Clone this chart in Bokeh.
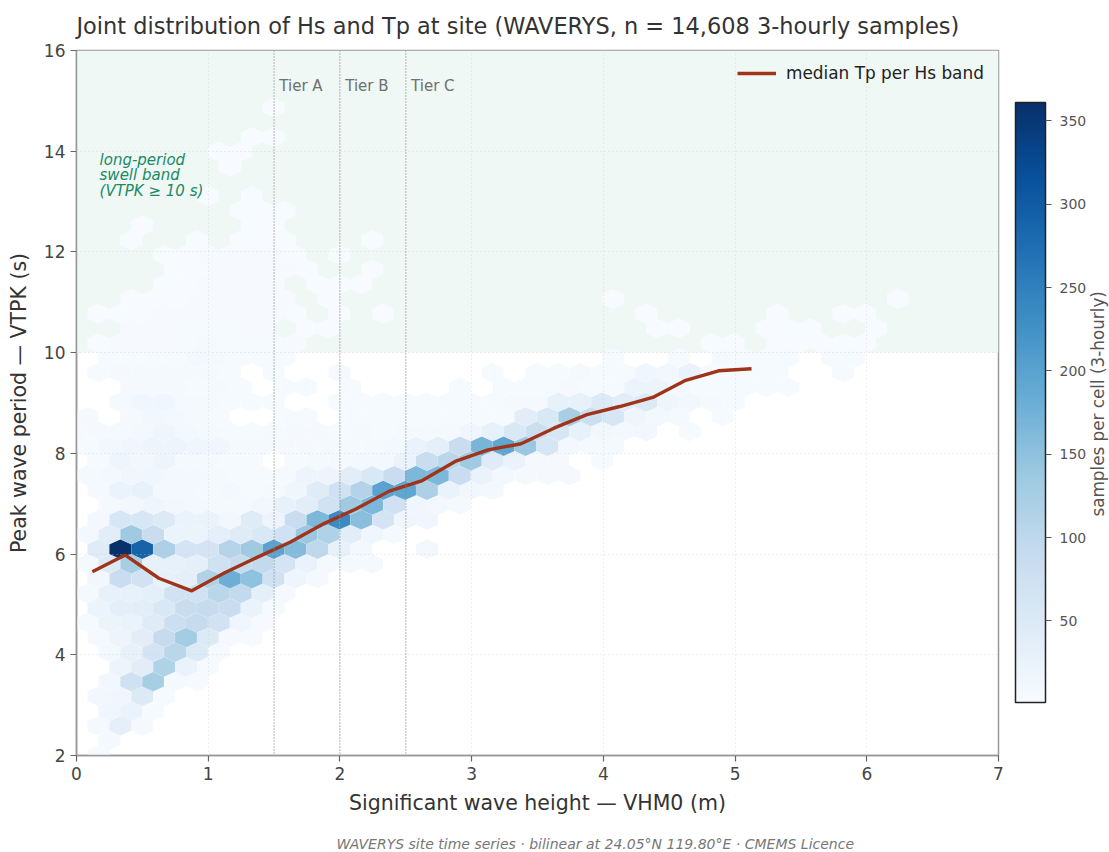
from bokeh.plotting import figure
from bokeh.models import (Range1d, FixedTicker, LinearColorMapper, ColorBar, Span, BoxAnnotation,
                          Title, LinearAxis, Legend, LegendItem, ColumnDataSource)
from bokeh.palettes import Blues256
from bokeh.embed import file_html
from bokeh.resources import INLINE
import math

TITLE = "Joint distribution of Hs and Tp at site (WAVERYS, n = 14,608 3-hourly samples)"
XLABEL = "Significant wave height — VHM0 (m)"
YLABEL = "Peak wave period — VTPK (s)"
CBLABEL = "samples per cell (3-hourly)"
FOOTER = "WAVERYS site time series · bilinear at 24.05°N 119.80°E · CMEMS Licence"
SWELL_LINES = ["long-period", "swell band", "(VTPK ≥ 10 s)"]
SWELL_Y = [13.83, 13.53, 13.21]
TIER_NAMES = ["Tier A", "Tier B", "Tier C"]
TIER_HS = [1.5, 2.0, 2.5]
XTICKS = [0, 1, 2, 3, 4, 5, 6, 7]
YTICKS = [2, 4, 6, 8, 10, 12, 14, 16]
CBTICKS = [50, 100, 150, 200, 250, 300, 350]

median_hs = [0.12, 0.37, 0.625, 0.875, 1.125, 1.375, 1.625, 1.875, 2.125, 2.375, 2.625, 2.875, 3.125,
             3.375, 3.625, 3.875, 4.125, 4.375, 4.625, 4.875, 5.125]
median_tp = [5.65, 5.98, 5.52, 5.27, 5.63, 5.94, 6.24, 6.60, 6.90, 7.25, 7.46, 7.84, 8.07,
             8.19, 8.50, 8.77, 8.93, 9.11, 9.45, 9.64, 9.68]

# hexagon lattice of the 2-D histogram, and the counts read per lattice row
HEX_DX = 0.1663
HEX_DY = 0.2923
HEX_Y0 = 2.005
row00 = [0, 3]
row01 = [0, 8]
row02 = [0, 8, 35, 6]
row03 = [0, 15, 25, 5]
row04 = [0, 12, 15, 50, 4]
row05 = [0, 12, 75, 125, 8, 3]
row06 = [0, 0, 20, 40, 115, 25, 4]
row07 = [0, 10, 30, 65, 105, 50, 4]
row08 = [0, 6, 20, 40, 90, 130, 50, 6, 3]
row09 = [5, 22, 25, 45, 80, 90, 70, 15, 3]
row10 = [0, 22, 35, 40, 55, 85, 90, 85, 25, 4]
row11 = [8, 30, 30, 35, 70, 75, 105, 95, 35, 6]
row12 = [0, 12, 85, 70, 30, 35, 115, 180, 150, 75, 18, 6]
row13 = [8, 50, 125, 30, 30, 35, 75, 90, 95, 65, 25, 8, 8, 8]
row14 = [0, 45, 361, 290, 120, 65, 65, 110, 135, 200, 160, 100, 30, 10, 0, 0, 10]
row15 = [10, 40, 135, 85, 22, 22, 35, 45, 55, 75, 140, 115, 40, 15, 8]
row16 = [0, 10, 60, 60, 50, 25, 25, 12, 45, 20, 85, 165, 235, 155, 65, 18, 15]
row17 = [0, 8, 12, 18, 12, 10, 8, 8, 12, 30, 40, 70, 135, 165, 75, 15, 10, 8]
row18 = [0, 6, 25, 30, 10, 10, 8, 10, 5, 8, 15, 45, 75, 112, 200, 195, 120, 25, 12, 10]
row19 = [8, 10, 15, 15, 10, 10, 6, 5, 5, 8, 20, 20, 40, 55, 85, 165, 165, 85, 25, 10, 6, 6, 6]
row20 = [0, 5, 18, 12, 20, 8, 8, 5, 5, 0, 5, 8, 8, 10, 10, 25, 85, 105, 135, 45, 25, 6, 6, 0, 5]
row21 = [5, 12, 15, 20, 20, 15, 15, 8, 6, 6, 6, 6, 6, 6, 10, 25, 35, 85, 170, 195, 140, 60, 10, 8, 8]
row22 = [6, 6, 8, 10, 18, 10, 6, 5, 5, 8, 6, 6, 5, 8, 5, 6, 6, 8, 15, 30, 55, 80, 60, 30, 12, 10, 12, 0, 5]
row23 = [6, 0, 8, 12, 10, 6, 5, 0, 0, 5, 5, 0, 4, 4, 4, 4, 4, 4, 5, 5, 40, 55, 125, 80, 60, 18, 10, 8, 0, 5]
row24 = [0, 0, 8, 14, 14, 8, 8, 5, 4, 3, 0, 0, 4, 4, 5, 4, 4, 4, 5, 5, 6, 6, 30, 30, 50, 40, 50, 18, 12, 6, 4]
row25 = [0, 0, 6, 8, 6, 5, 8, 4, 0, 4, 4, 0, 4, 0, 0, 0, 0, 4, 0, 4, 4, 5, 6, 5, 5, 22, 22, 10, 5, 5, 4, 5, 5]
row26 = [0, 5, 6, 8, 8, 8, 6, 5, 0, 4, 0, 0, 6, 0, 0, 0, 0, 0, 0, 5, 0, 5, 5, 8, 5, 5, 15, 12, 25, 5, 5, 5, 5, 0, 0, 4]
row27 = [0, 4, 3, 3, 4, 10, 8, 5, 4, 5, 0, 0, 0, 0, 0, 0, 0, 0, 0, 0, 0, 0, 0, 0, 4, 0, 0, 5, 0, 8, 5, 4, 4, 0, 4, 4]
row28 = [0, 2, 3, 3, 3, 4, 6, 5, 4, 3, 3, 0, 0, 0, 0, 0, 0, 0, 0, 0, 0, 0, 0, 0, 0, 0, 0, 0, 0, 2, 2, 0, 2, 2, 2, 2, 2]
row29 = [0, 0, 3, 3, 3, 5, 5, 3, 3, 0, 2, 2, 0, 0, 0, 0, 0, 0, 0, 0, 0, 0, 0, 0, 0, 0, 2, 2, 0, 0, 0, 2, 2, 2, 0, 0, 2]
row30 = [0, 2, 2, 2, 3, 3, 3, 3, 3, 3, 2, 0, 2, 0, 2, 0, 0, 0, 0, 0, 0, 0, 0, 0, 0, 0, 2, 0, 0, 0, 0, 0, 2, 0, 0, 2, 2]
row31 = [0, 0, 2, 2, 2, 3, 3, 3, 3, 3, 0, 2, 0, 0, 0, 0, 0, 0, 0, 0, 0, 0, 0, 0, 2, 0, 0, 0, 0, 0, 0, 0, 0, 0, 0, 0, 0, 2]
row32 = [0, 0, 0, 0, 2, 2, 3, 3, 3, 3, 0, 2, 2, 2]
row33 = [0, 0, 0, 0, 2, 2, 3, 3, 3, 3, 2, 0, 0, 2]
row34 = [0, 0, 0, 0, 2, 2, 3, 3, 3, 3, 2, 0, 2]
row35 = [0, 0, 2, 0, 0, 2, 0, 2, 2, 2, 0, 0, 0, 2]
row36 = [0, 0, 0, 2, 0, 0, 0, 0, 2, 2]
row37 = [0, 0, 0, 0, 0, 0, 0, 2, 2, 2]
row38 = [0, 0, 0, 0, 0, 0, 2, 0, 2]
row39 = []
row40 = [0, 0, 0, 0, 0, 0, 0, 2]
row41 = [0, 0, 0, 0, 0, 0, 2, 2]
row42 = [0, 0, 0, 0, 0, 0, 0, 0, 2, 2]
row43 = []
row44 = [0, 0, 0, 0, 0, 0, 0, 0, 0, 2]
rows = [row00, row01, row02, row03, row04, row05, row06, row07, row08, row09, row10, row11, row12, row13,
        row14, row15, row16, row17, row18, row19, row20, row21, row22, row23, row24, row25, row26, row27,
        row28, row29, row30, row31, row32, row33, row34, row35, row36, row37, row38, row39, row40, row41,
        row42, row43, row44]

hx, hy, hc = [], [], []
for n, row in enumerate(rows):
    for k, c in enumerate(row):
        if c <= 0:
            continue
        cx = HEX_DX * (k + 0.5 * (n % 2))
        cy = HEX_Y0 + HEX_DY * n
        w, h1, h2 = HEX_DX / 2, HEX_DY / 3, HEX_DY * 2 / 3
        hx.append([cx - w, cx - w, cx, cx + w, cx + w, cx])
        hy.append([cy - h1, cy + h1, cy + h2, cy + h1, cy - h1, cy - h2])
        hc.append(c)

p = figure(width=1109, height=852, frame_width=922, frame_height=705, output_backend="svg", toolbar_location=None,
           x_range=Range1d(0, 7), y_range=Range1d(2, 16),
           min_border_left=76, min_border_right=111, min_border_top=50, min_border_bottom=97,
           title=TITLE, x_axis_label=XLABEL, y_axis_label=YLABEL)
p.background_fill_color = "white"
p.border_fill_color = "white"
p.outline_line_color = "#999999"
p.outline_line_width = 1.5

p.title.text_font = "DejaVu Sans"
p.title.text_font_size = "22.45px"
p.title.text_font_style = "normal"
p.title.text_color = "#333333"
p.title.standoff = 22
p.title.vertical_align = "middle"

for ax, ticks in ((p.xaxis[0], XTICKS), (p.yaxis[0], YTICKS)):
    ax.ticker = FixedTicker(ticks=ticks)
    ax.minor_tick_line_color = None
    ax.axis_line_color = "#999999"
    ax.axis_line_width = 1.5
    ax.major_tick_line_color = "#666666"
    ax.major_tick_line_width = 1.2
    ax.major_tick_in = 0
    ax.major_tick_out = 6
    ax.major_label_text_font = "DejaVu Sans"
    ax.major_label_text_font_size = "17px"
    ax.major_label_text_color = "#444444"
    ax.axis_label_text_font = "DejaVu Sans"
    ax.axis_label_text_font_size = "20.5px"
    ax.axis_label_text_font_style = "normal"
    ax.axis_label_text_color = "#333333"
p.yaxis[0].major_label_orientation = "horizontal"
p.xaxis[0].axis_label_standoff = 8
p.yaxis[0].axis_label_standoff = 10

p.add_layout(BoxAnnotation(bottom=10, top=16, fill_color="#eff8f4", fill_alpha=1, line_alpha=0, level="underlay"))

mapper = LinearColorMapper(palette=list(Blues256[::-1]), low=1, high=361)
p.patches("xs", "ys", source=ColumnDataSource(dict(xs=hx, ys=hy, count=hc)),
          fill_color={"field": "count", "transform": mapper}, line_color="white", line_width=0.25, line_alpha=0.3)

p.xgrid[0].ticker = FixedTicker(ticks=XTICKS)
p.ygrid[0].ticker = FixedTicker(ticks=YTICKS)
for g in (p.xgrid[0], p.ygrid[0]):
    g.grid_line_color = "#cccccc"
    g.grid_line_alpha = 0.6
    g.grid_line_dash = "1 3"
    g.grid_line_width = 1
    g.level = "guide"

for hs in TIER_HS:
    p.add_layout(Span(location=hs, dimension="height", line_color="#888888", line_width=1.2, line_dash="1 2"))
p.text(x=[h + 0.04 for h in TIER_HS], y=[15.29] * 3, text=TIER_NAMES, text_color="#707070",
       text_font_size="15px", text_baseline="middle", text_align="left", text_font={"value": "DejaVu Sans"})
p.text(x=[0.175] * 3, y=SWELL_Y, text=SWELL_LINES, text_color="#1a8a66", text_font_size="15px",
       text_font_style="italic", text_baseline="middle", text_align="left", text_font={"value": "DejaVu Sans"})

line = p.line(median_hs, median_tp, line_color="#a0341a", line_width=3.4, level="annotation")
legend = Legend(items=[LegendItem(label="median Tp per Hs band", renderers=[line])], location=(659, 670),
                background_fill_alpha=0, border_line_alpha=0, glyph_width=39, glyph_height=12, label_height=12,
                label_text_font="DejaVu Sans", label_text_font_size="16.9px", label_text_color="#222222",
                label_standoff=10, margin=0, padding=2)
p.add_layout(legend)

cb = ColorBar(color_mapper=mapper, ticker=FixedTicker(ticks=CBTICKS), width=30, height=600,
              location=(939, 53), padding=0, margin=0, major_tick_in=0, major_tick_out=6,
              major_tick_line_color="#555555", bar_line_color="#222222", bar_line_width=1.5,
              major_label_text_font="DejaVu Sans", major_label_text_font_size="14px",
              major_label_text_color="#555555", label_standoff=8, background_fill_alpha=0)
p.add_layout(cb)

# the colour bar's rotated caption: one tick of an otherwise empty right axis, whose label is the caption
CB_CAPTION_START = 6.746
side = LinearAxis(ticker=FixedTicker(ticks=[CB_CAPTION_START]), axis_line_color=None, major_tick_line_color=None,
                  minor_tick_line_color=None, major_tick_in=0, major_tick_out=0,
                  major_label_overrides={CB_CAPTION_START: CBLABEL}, major_label_orientation=math.pi / 2,
                  major_label_standoff=100, major_label_text_font="DejaVu Sans",
                  major_label_text_font_size="16.8px", major_label_text_color="#555555")
p.add_layout(side, "right")

foot = Title(text=FOOTER, align="left", offset=260, standoff=33, text_font="DejaVu Sans", text_font_size="14px",
             text_font_style="italic", text_color="#777777")
p.add_layout(foot, "below")

open("out.html", "w").write(file_html(p, INLINE))
